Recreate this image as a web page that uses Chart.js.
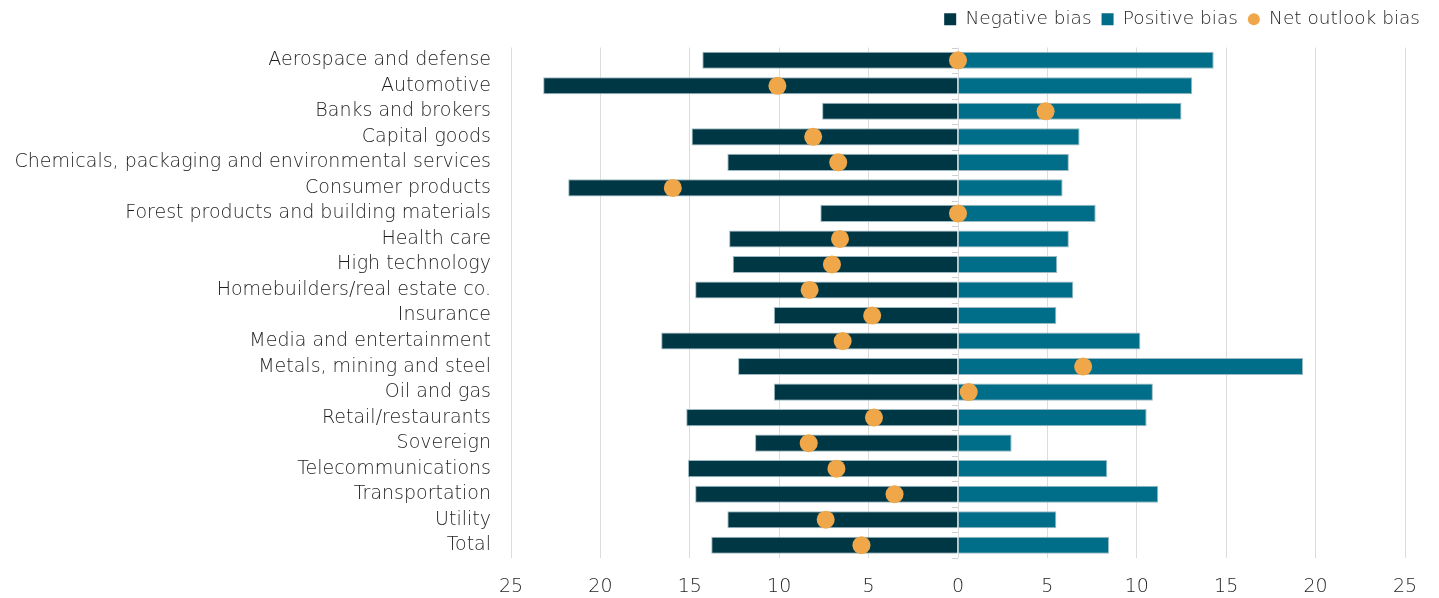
<!DOCTYPE html>
<html>
<head>
<meta charset="utf-8">
<script src="https://cdn.jsdelivr.net/npm/chart.js@4/dist/chart.umd.min.js"></script>
<style>
html,body{margin:0;padding:0;background:#fff;}
#wrap{width:1439px;height:598px;position:relative;}
</style>
</head>
<body>
<div id="wrap"><canvas id="c" width="1439" height="598"></canvas></div>
<script>
const categories = [
  "Aerospace and defense","Automotive","Banks and brokers","Capital goods",
  "Chemicals, packaging and environmental services","Consumer products",
  "Forest products and building materials","Health care","High technology",
  "Homebuilders/real estate co.","Insurance","Media and entertainment",
  "Metals, mining and steel","Oil and gas","Retail/restaurants","Sovereign",
  "Telecommunications","Transportation","Utility","Total"
];
const negativeBias = [-14.3,-23.2,-7.6,-14.9,-12.9,-21.8,-7.7,-12.8,-12.6,-14.7,-10.3,-16.6,-12.3,-10.3,-15.2,-11.35,-15.1,-14.7,-12.9,-13.8];
const positiveBias = [14.3,13.1,12.5,6.8,6.2,5.85,7.7,6.2,5.55,6.45,5.5,10.2,19.3,10.9,10.55,3.0,8.35,11.2,5.5,8.45];
const netOutlookBias = [0,-10.1,4.9,-8.1,-6.7,-15.95,0,-6.6,-7.05,-8.3,-4.8,-6.45,7.0,0.6,-4.7,-8.35,-6.8,-3.55,-7.4,-5.4];
const xTicks = [-25,-20,-15,-10,-5,0,5,10,15,20,25];

const FONT = "'DejaVu Sans', 'Open Sans', sans-serif";
const TEXT = '#1e1e1e';

const zeroTicks = {
  id: 'zeroTicks',
  afterDatasetsDraw(chart) {
    const x = chart.scales.x, y = chart.scales.y, ctx = chart.ctx;
    const px = x.getPixelForValue(0);
    ctx.save();
    ctx.strokeStyle = '#d0d0d0';
    ctx.lineWidth = 1;
    for (let i = 0; i <= categories.length; i++) {
      const py = Math.round(y.getPixelForValue(i - 0.5)) + 0.5;
      ctx.beginPath(); ctx.moveTo(px - 6, py); ctx.lineTo(px, py); ctx.stroke();
    }
    ctx.restore();
  }
};

new Chart(document.getElementById('c'), {
  type: 'bar',
  data: {
    labels: categories,
    datasets: [
      { type:'line', label:'Net outlook bias', data: netOutlookBias, showLine:false,
        backgroundColor:'#f0a74a', borderColor:'#f0a74a', pointRadius:9, pointHoverRadius:9,
        pointBorderWidth:0, order:0 },
      { label:'Negative bias', data: negativeBias, backgroundColor:'#003745',
        borderColor:'#9dbac3', borderWidth:1, grouped:false, barPercentage:0.67, categoryPercentage:1,
        order:2 },
      { label:'Positive bias', data: positiveBias, backgroundColor:'#006e88',
        borderColor:'#9dbac3', borderWidth:1, grouped:false, barPercentage:0.67, categoryPercentage:1,
        order:1 }
    ]
  },
  options: {
    indexAxis: 'y',
    responsive: false,
    animation: false,
    maintainAspectRatio: false,
    layout: { padding: { left: 0, right: 9, top: 0, bottom: 0 } },
    plugins: {
      tooltip: { enabled:false },
      legend: {
        position: 'top', align: 'end',
        labels: {
          boxWidth: 12, boxHeight: 12, padding: 10,
          color: TEXT, font: { family: FONT, size: 18.5, weight: 200 },
          generateLabels: (chart) => {
            const items = Chart.defaults.plugins.legend.labels.generateLabels(chart);
            items.forEach(it => {
              it.lineWidth = 0;
              it.strokeStyle = 'rgba(0,0,0,0)';
              if (it.text === 'Net outlook bias') { it.borderRadius = 6; it.fillStyle = '#f0a74a'; }
            });
            const ord = {'Negative bias':0,'Positive bias':1,'Net outlook bias':2};
            return items.sort((a, b) => ord[a.text] - ord[b.text]);
          }
        }
      }
    },
    scales: {
      x: {
        type: 'linear', min: -25, max: 25,
        afterBuildTicks: s => { s.ticks = xTicks.map(v => ({ value: v })); },
        afterFit: s => { s.height = 40; },
        ticks: { callback: v => Math.abs(v), color: TEXT, padding: 18,
                 font: { family: FONT, size: 19, weight: 200 } },
        grid: { color: '#dcdcdc', drawTicks: false, lineWidth: 1 },
        border: { display: false }
      },
      xTop: {
        type: 'linear', position: 'top', min: -25, max: 25,
        afterFit: s => { s.height = 9; },
        ticks: { display: false }, grid: { display: false, drawTicks: false }, border: { display: false }
      },
      y: {
        afterFit: s => { s.width = 511; },
        ticks: { color: TEXT, padding: 20, font: { family: FONT, size: 19, weight: 200 }, autoSkip:false },
        grid: { display: false, drawTicks: false },
        border: { display: false }
      },
      yRight: {
        type: 'category', position: 'right', labels: categories,
        afterFit: s => { s.width = 25; },
        ticks: { display: false }, grid: { display: false, drawTicks: false }, border: { display: false }
      }
    }
  },
  plugins: [zeroTicks]
});
</script>
</body>
</html>
